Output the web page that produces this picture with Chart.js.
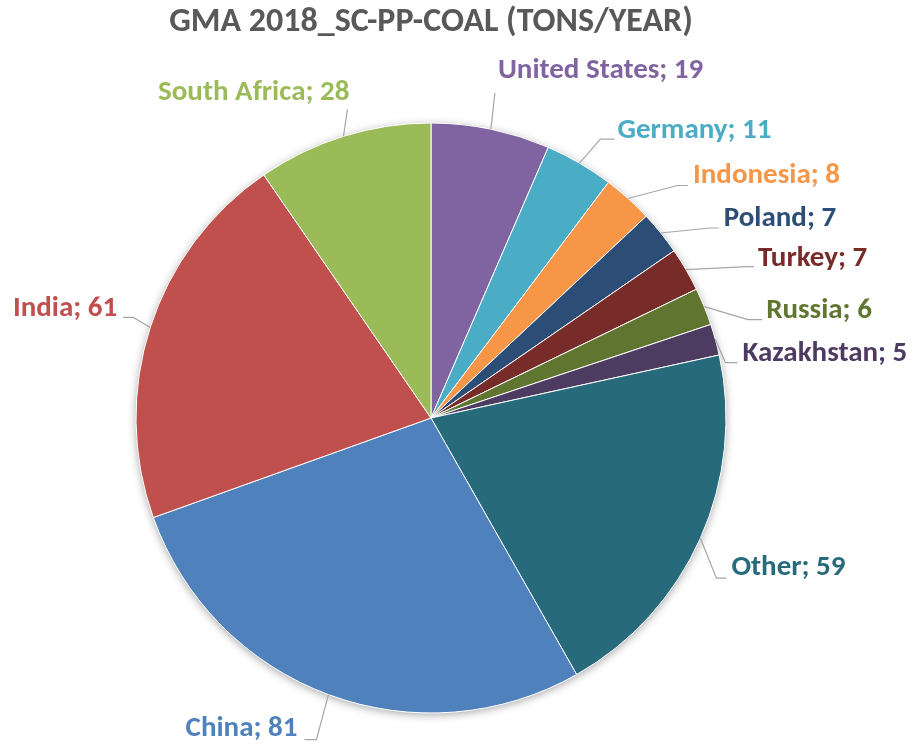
<!DOCTYPE html>
<html>
<head>
<meta charset="utf-8">
<script src="https://cdn.jsdelivr.net/npm/chart.js@4.4.1/dist/chart.umd.min.js"></script>
<style>
  html, body { margin: 0; padding: 0; background: #fff; }
  #wrap { width: 912px; height: 745px; }
</style>
</head>
<body>
<div id="wrap"><canvas id="pieChart" width="912" height="745"></canvas></div>
<script>
const chartTitle = 'GMA 2018_SC-PP-COAL (TONS/YEAR)';
const countries = ['United States', 'Germany', 'Indonesia', 'Poland', 'Turkey', 'Russia', 'Kazakhstan', 'Other', 'China', 'India', 'South Africa'];
const tonsPerYear = [19, 11, 8, 7, 7, 6, 5, 59, 81, 61, 28];
const sliceColors = ['#8064A2', '#4BACC6', '#F79646', '#2C4D75', '#772C2A', '#5F7530', '#4D3B62', '#276A7C', '#4F81BD', '#C0504D', '#9BBB59'];

const labelFont = "bold 29px Carlito, Lato, 'Open Sans', sans-serif";

// leader line layout per slice: elbow offset from slice edge, horizontal run, text offset
const leaderLayout = [
  { dx: 4, dy: -36, h: 0, tx: 3, ty: -22, align: 'left' },
  { dx: 21, dy: -24, h: 14, tx: 3, ty: -8, align: 'left' },
  { dx: 49, dy: -13, h: 11, tx: 5, ty: -10, align: 'left' },
  { dx: 49, dy: -5, h: 9, tx: 5, ty: -9, align: 'left' },
  { dx: 61, dy: -3, h: 7, tx: 4, ty: -8, align: 'left' },
  { dx: 44, dy: 13, h: 14, tx: 4, ty: -9, align: 'left' },
  { dx: 10, dy: 23, h: 12, tx: 5, ty: -9, align: 'left' },
  { dx: 16, dy: 40, h: 10, tx: 5, ty: -10, align: 'left' },
  { dx: -12, dy: 45, h: -12, tx: -7, ty: -11, align: 'right' },
  { dx: -17, dy: -10, h: -10, tx: -6, ty: -9, align: 'right' },
  { dx: 4, dy: -27, h: 0, tx: 2, ty: -17, align: 'right' }
];

// soft shadow behind the pie
const pieShadow = {
  id: 'pieShadow',
  beforeDatasetsDraw(chart) {
    const arc = chart.getDatasetMeta(0).data[0];
    if (!arc) return;
    const { x, y, outerRadius } = arc.getProps(['x', 'y', 'outerRadius'], true);
    const ctx = chart.ctx;
    ctx.save();
    ctx.shadowColor = 'rgba(0,0,0,0.35)';
    ctx.shadowBlur = 9;
    ctx.shadowOffsetY = 2;
    ctx.beginPath();
    ctx.arc(x, y, outerRadius, 0, Math.PI * 2);
    ctx.fillStyle = '#fff';
    ctx.fill();
    ctx.restore();
  }
};

// outside labels with leader lines
const sliceLabels = {
  id: 'sliceLabels',
  afterDatasetsDraw(chart) {
    const ctx = chart.ctx;
    const meta = chart.getDatasetMeta(0);
    meta.data.forEach((arc, i) => {
      const { x, y, startAngle, endAngle, outerRadius } =
        arc.getProps(['x', 'y', 'startAngle', 'endAngle', 'outerRadius'], true);
      const mid = (startAngle + endAngle) / 2;
      const ex = x + Math.cos(mid) * outerRadius;
      const ey = y + Math.sin(mid) * outerRadius;
      const l = leaderLayout[i];
      const p1x = ex + l.dx, p1y = ey + l.dy;
      const p2x = p1x + l.h, p2y = p1y;

      ctx.save();
      ctx.strokeStyle = '#A6A6A6';
      ctx.lineWidth = 1.2;
      ctx.beginPath();
      ctx.moveTo(ex, ey);
      ctx.lineTo(p1x, p1y);
      ctx.lineTo(p2x, p2y);
      ctx.stroke();

      ctx.font = labelFont;
      ctx.fillStyle = sliceColors[i];
      ctx.textAlign = l.align;
      ctx.textBaseline = 'middle';
      ctx.fillText(countries[i] + '; ' + tonsPerYear[i], p2x + l.tx, p2y + l.ty);
      ctx.restore();
    });
  }
};

const ctx = document.getElementById('pieChart').getContext('2d');
const pieChart = new Chart(ctx, {
  type: 'pie',
  data: {
    labels: countries,
    datasets: [{
      data: tonsPerYear,
      backgroundColor: sliceColors,
      borderColor: '#ffffff',
      borderWidth: 1,
      radius: 295
    }]
  },
  options: {
    responsive: false,
    animation: false,
    layout: {
      padding: { top: 0, bottom: 32, left: 0, right: 50 }
    },
    plugins: {
      legend: { display: false },
      tooltip: { enabled: false },
      title: {
        display: true,
        text: chartTitle,
        color: '#595959',
        font: { family: "Carlito, Lato, 'Open Sans', sans-serif", size: 34, weight: 'bold' },
        padding: { top: 2, bottom: 80.2 }
      }
    }
  },
  plugins: [pieShadow, sliceLabels]
});
</script>
</body>
</html>
